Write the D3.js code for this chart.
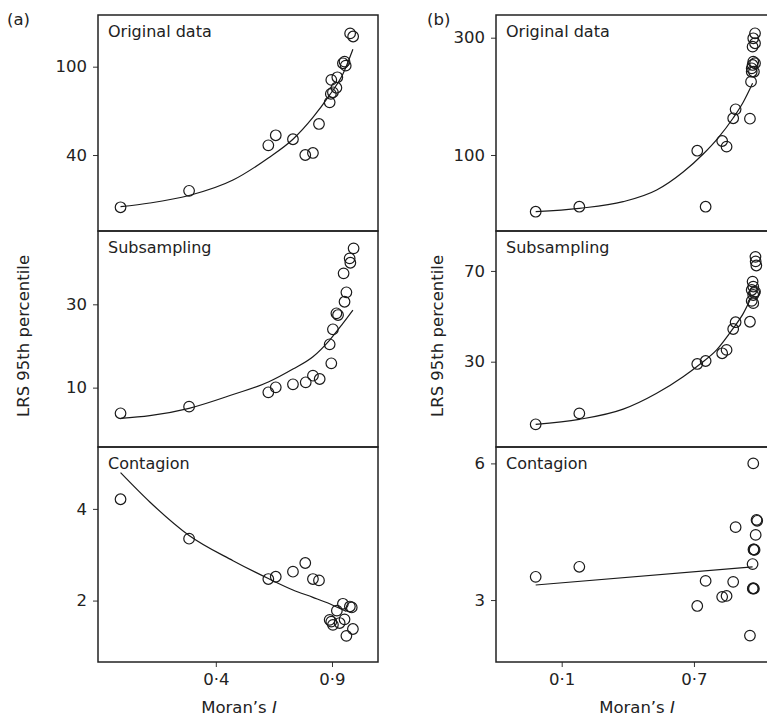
<!DOCTYPE html>
<html>
<head>
<style>
  body { margin: 0; background: #fff; }
  svg text { font-family: "DejaVu Sans", sans-serif; fill: #222; }
  .pt { fill: none; stroke: #1a1a1a; stroke-width: 1.2; }
  .fit { fill: none; stroke: #1a1a1a; stroke-width: 1.2; }
  .frame { fill: none; stroke: #222; stroke-width: 1.5; }
  .tick line { stroke: #333; }
</style>
<script src="https://d3js.org/d3.v7.min.js"></script>
</head>
<body>
<svg width="767" height="717"></svg>
<script>
// ---- (a) Original data
var moranA_orig = [-0.01, 0.285, 0.626, 0.658, 0.732, 0.785, 0.818, 0.844, 0.890, 0.895, 0.904, 0.919, 0.897, 0.923, 0.947, 0.954, 0.959, 0.978, 0.991];
var lrsA_orig   = [4.5, 15.7, 46.6, 53.4, 50.7, 40.0, 41.4, 61.1, 75.8, 81.5, 82.6, 85.7, 91.0, 92.8, 102.3, 103.4, 100.7, 122.6, 120.5];
var fitXA_orig  = [-0.01, 0.116, 0.285, 0.474, 0.626, 0.732, 0.818, 0.890, 0.947, 0.990];
var fitYA_orig  = [4.9, 7.4, 12.5, 23.0, 38.0, 50.7, 65.5, 80.8, 95.0, 111.8];

// ---- (a) Subsampling
var moranA_sub = [-0.01, 0.285, 0.626, 0.658, 0.732, 0.787, 0.818, 0.847, 0.897, 0.890, 0.904, 0.919, 0.926, 0.954, 0.962, 0.950, 0.979, 0.976, 0.993];
var lrsA_sub   = [3.84, 5.43, 8.88, 10.08, 10.8, 11.28, 12.87, 12.07, 15.84, 20.4, 24.0, 27.84, 27.43, 30.62, 32.88, 37.44, 39.98, 41.04, 43.44];
var fitXA_sub  = [-0.01, 0.116, 0.285, 0.474, 0.626, 0.732, 0.818, 0.890, 0.947, 0.990];
var fitYA_sub  = [2.64, 3.27, 5.04, 8.35, 11.35, 14.47, 17.42, 21.43, 25.44, 28.63];

// ---- (a) Contagion
var moranA_con = [-0.01, 0.285, 0.626, 0.658, 0.732, 0.785, 0.818, 0.844, 0.947, 0.977, 0.985, 0.921, 0.890, 0.897, 0.904, 0.954, 0.933, 0.990, 0.962];
var lrsA_con   = [4.21, 3.35, 2.47, 2.52, 2.63, 2.82, 2.47, 2.44, 1.93, 1.87, 1.85, 1.78, 1.58, 1.54, 1.47, 1.59, 1.51, 1.38, 1.23];
var fitXA_con  = [-0.01, 0.116, 0.285, 0.474, 0.626, 0.732, 0.818, 0.890, 0.962];
var fitYA_con  = [4.79, 4.15, 3.42, 2.87, 2.48, 2.23, 2.07, 1.93, 1.76];

// ---- (b) Original data
var moranB_orig = [-0.018, 0.180, 0.715, 0.753, 0.828, 0.848, 0.878, 0.889, 0.954, 0.977, 0.969, 0.977, 0.966, 0.969, 0.977, 0.966, 0.962, 0.972, 0.962, 0.959];
var lrsB_orig   = [3.3, 11.8, 107.3, 11.8, 123.9, 114.2, 162.6, 177.9, 161.9, 307.5, 299.0, 290.5, 284.7, 259.1, 256.4, 253.5, 247.8, 242.0, 242.0, 225.0];
var fitXB_orig  = [-0.018, 0.180, 0.379, 0.531, 0.651, 0.742, 0.809, 0.878, 0.924, 0.966];
var fitYB_orig  = [3.3, 9.1, 20.4, 40.3, 71.0, 101.7, 128.9, 163.1, 190.4, 222.3];

// ---- (b) Subsampling
var moranB_sub = [-0.018, 0.180, 0.715, 0.753, 0.828, 0.848, 0.878, 0.889, 0.954, 0.979, 0.980, 0.983, 0.966, 0.969, 0.962, 0.977, 0.969, 0.962, 0.969, 0.974];
var lrsB_sub   = [2.4, 7.2, 29.0, 30.3, 33.7, 35.2, 44.4, 47.4, 47.6, 76.2, 74.2, 72.4, 65.3, 63.1, 61.6, 60.9, 59.4, 56.8, 55.8, 60.3];
var fitXB_sub  = [-0.018, 0.180, 0.379, 0.531, 0.651, 0.727, 0.803, 0.878, 0.924, 0.962];
var fitYB_sub  = [2.4, 4.6, 9.1, 16.1, 23.4, 28.9, 35.2, 44.7, 51.3, 58.7];

// ---- (b) Contagion
var moranB_con = [-0.018, 0.180, 0.715, 0.753, 0.828, 0.848, 0.878, 0.889, 0.954, 0.969, 0.966, 0.969, 0.972, 0.967, 0.972, 0.975, 0.970, 0.980, 0.984, 0.987];
var lrsB_con   = [3.51, 3.73, 2.87, 3.42, 3.07, 3.09, 3.40, 4.60, 2.22, 6.00, 3.79, 3.26, 3.25, 3.25, 4.11, 4.10, 4.11, 4.43, 4.76, 4.74];
var fitXB_con  = [-0.018, 0.966];
var fitYB_con  = [3.33, 3.73];

// tick labels
var xTicksA = [0.4, 0.9];
var xTicksB = [0.1, 0.7];
var yTicksA_orig = [40, 100], yTicksA_sub = [10, 30], yTicksA_con = [2, 4];
var yTicksB_orig = [100, 300], yTicksB_sub = [30, 70], yTicksB_con = [3, 6];

var svg = d3.select("svg");

var cols = [
  {left: 98, right: 378, dom: [-0.107, 1.098], ticks: xTicksA, tag: "(a)", tagX: 7, ylabX: 29, xlabX: 239},
  {left: 496, right: 770, dom: [-0.198, 1.045], ticks: xTicksB, tag: "(b)", tagX: 427, ylabX: 443, xlabX: 637}
];
var rows = [[15, 231], [231, 447], [447, 662]];

var panels = [
  {c: 0, r: 0, name: "Original data", x: moranA_orig, y: lrsA_orig, fx: fitXA_orig, fy: fitYA_orig, ticks: yTicksA_orig, dom: [-11.6, 135.1]},
  {c: 0, r: 1, name: "Subsampling",   x: moranA_sub,  y: lrsA_sub,  fx: fitXA_sub,  fy: fitYA_sub,  ticks: yTicksA_sub,  dom: [-4.25, 47.6]},
  {c: 0, r: 2, name: "Contagion",     x: moranA_con,  y: lrsA_con,  fx: fitXA_con,  fy: fitYA_con,  ticks: yTicksA_con,  dom: [0.66, 5.35]},
  {c: 1, r: 0, name: "Original data", x: moranB_orig, y: lrsB_orig, fx: fitXB_orig, fy: fitYB_orig, ticks: yTicksB_orig, dom: [-29.6, 338.7]},
  {c: 1, r: 1, name: "Subsampling",   x: moranB_sub,  y: lrsB_sub,  fx: fitXB_sub,  fy: fitYB_sub,  ticks: yTicksB_sub,  dom: [-7.6, 87.6]},
  {c: 1, r: 2, name: "Contagion",     x: moranB_con,  y: lrsB_con,  fx: fitXB_con,  fy: fitYB_con,  ticks: yTicksB_con,  dom: [1.64, 6.36]}
];

var fmt = function(d) { return d3.format(".1f")(d).replace(".", "\u00b7"); };

panels.forEach(function(p) {
  var col = cols[p.c], row = rows[p.r];
  var x = d3.scaleLinear().domain(col.dom).range([col.left, col.right]);
  var y = d3.scaleLinear().domain(p.dom).range([row[1], row[0]]);
  var g = svg.append("g");

  // y axis
  g.append("g")
    .attr("transform", "translate(" + col.left + ",0)")
    .call(d3.axisLeft(y).tickValues(p.ticks).tickFormat(d3.format("d")).tickSize(5).tickPadding(6))
    .call(function(a) { a.select(".domain").remove(); })
    .selectAll("text").style("font-size", "16.5px").style("font-family", "DejaVu Sans");

  // x axis only under the bottom panel
  if (p.r === 2) {
    g.append("g")
      .attr("transform", "translate(0," + row[1] + ")")
      .call(d3.axisBottom(x).tickValues(col.ticks).tickFormat(fmt).tickSize(5).tickPadding(6))
      .call(function(a) { a.select(".domain").remove(); })
      .selectAll("text").style("font-size", "16.5px").style("font-family", "DejaVu Sans");
  }

  // fitted curve
  var line = d3.line()
    .x(function(d, i) { return x(p.fx[i]); })
    .y(function(d, i) { return y(p.fy[i]); })
    .curve(d3.curveMonotoneX);
  g.append("path").attr("class", "fit").attr("d", line(p.fx));

  // points
  g.selectAll("circle").data(p.x).enter().append("circle")
    .attr("class", "pt")
    .attr("cx", function(d) { return x(d); })
    .attr("cy", function(d, i) { return y(p.y[i]); })
    .attr("r", 5.3);

  // frame
  g.append("rect").attr("class", "frame")
    .attr("x", col.left).attr("y", row[0])
    .attr("width", col.right - col.left).attr("height", row[1] - row[0]);

  g.append("text")
    .attr("x", col.left + 10).attr("y", row[0] + 21.5)
    .style("font-size", "16px")
    .text(p.name);
});

cols.forEach(function(col) {
  svg.append("text").attr("x", col.tagX).attr("y", 25).style("font-size", "16.5px").text(col.tag);

  svg.append("text")
    .attr("transform", "translate(" + col.ylabX + ",336) rotate(-90)")
    .attr("text-anchor", "middle")
    .style("font-size", "16.5px")
    .text("LRS 95th percentile");

  var t = svg.append("text")
    .attr("x", col.xlabX)
    .attr("y", 713)
    .attr("text-anchor", "middle")
    .style("font-size", "16.5px");
  t.append("tspan").text("Moran\u2019s ");
  t.append("tspan").style("font-style", "italic").text("I");
});
</script>
</body>
</html>
